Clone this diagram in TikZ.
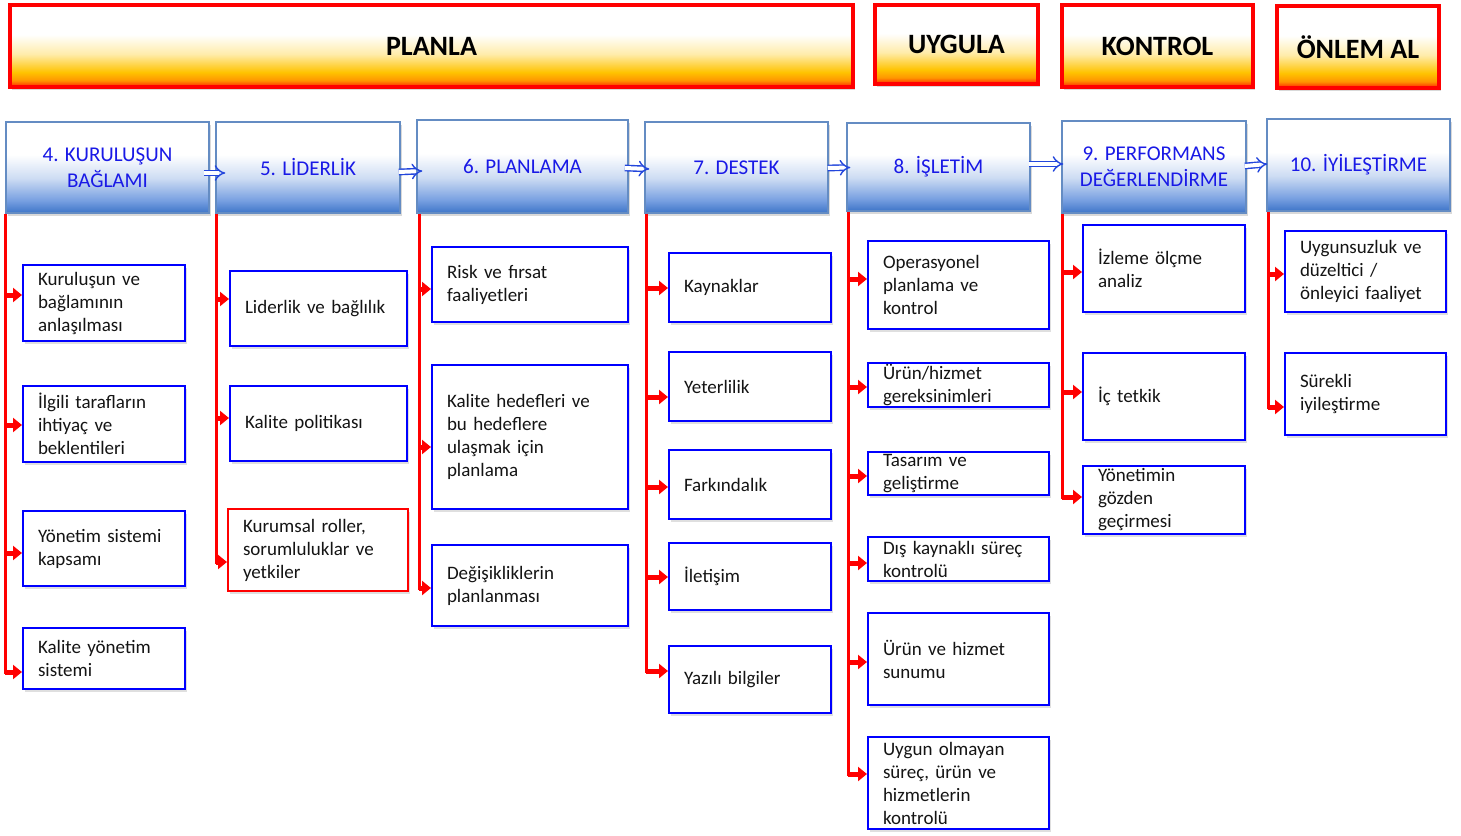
\documentclass[tikz,border=0pt]{standalone}
\usepackage{fontspec}
\setmainfont{Carlito}
\usetikzlibrary{arrows.meta,shadows}
\definecolor{hdrbot}{RGB}{255,60,0}
\definecolor{hdrorange}{RGB}{255,150,0}
\definecolor{hdryellow}{RGB}{255,195,0}
\definecolor{hdrpale}{RGB}{255,236,170}
\definecolor{secbot}{RGB}{62,117,200}
\definecolor{secmid}{RGB}{120,160,225}
\definecolor{seclight}{RGB}{205,220,243}
\definecolor{secline}{RGB}{100,140,195}
\definecolor{sectext}{RGB}{25,25,230}
\definecolor{arrblue}{RGB}{35,70,220}
\definecolor{itemtext}{RGB}{20,20,20}
\pgfdeclareverticalshading{hdrfill}{100bp}{color(0bp)=(hdrbot); color(26bp)=(hdrbot); color(29bp)=(hdrorange); color(34bp)=(hdryellow); color(45bp)=(hdrpale); color(57bp)=(white); color(100bp)=(white)}
\pgfdeclareverticalshading{secfill}{100bp}{color(0bp)=(secbot); color(25bp)=(secbot); color(32bp)=(secmid); color(44bp)=(seclight); color(57bp)=(white); color(100bp)=(white)}
\begin{document}
\begin{tikzpicture}[x=1pt, y=-1pt,
    hdrbox/.style={draw=red, line width=3.5pt, shade, shading=hdrfill, inner sep=0pt, font=\bfseries\fontsize{28}{32}\selectfont, drop shadow={opacity=0.3, shadow xshift=2pt, shadow yshift=-3pt}},
    secbox/.style={draw=secline, line width=1.5pt, shade, shading=secfill, inner sep=0pt, align=center, text=sectext, font=\fontsize{21}{26}\selectfont, drop shadow={opacity=0.3, shadow xshift=2pt, shadow yshift=-3pt}},
    itembox/.style={draw=blue, line width=2pt, fill=white, inner xsep=15pt, inner ysep=0pt, align=left, text=itemtext, font=\fontsize{19}{23}\selectfont, drop shadow={opacity=0.25, shadow xshift=2pt, shadow yshift=-3pt}},
    nextarr/.style={draw=arrblue, line width=1.4pt, double=white, double distance=4pt, -{Implies}},
    redline/.style={red, line width=3pt},
    redarr/.style={red, line width=5pt, -{Triangle[length=9pt, width=14pt]}}]

    \useasboundingbox (0,0) rectangle (1461,835);

        \node[hdrbox, minimum width=843, minimum height=82] (planla) at(431.5, 46){PLANLA};
        \node[hdrbox, minimum width=163, minimum height=79] (uygula) at(956.5, 44.5){UYGULA};
        \node[hdrbox, minimum width=191, minimum height=82] (kontrol) at(1157.5, 46){KONTROL};
        \node[hdrbox, minimum width=162, minimum height=82] (onlem) at(1358, 47){ÖNLEM AL};

        \node[secbox, minimum width=203, minimum height=91] (s4) at(107.5, 167.5){4. KURULUŞUN\\BAĞLAMI};
        \node[secbox, minimum width=184, minimum height=91] (s5) at(308, 167.5){5. LİDERLİK};
        \node[secbox, minimum width=211, minimum height=93] (s6) at(522.5, 166.5){6. PLANLAMA};
        \node[secbox, minimum width=183, minimum height=91] (s7) at(736.5, 167.5){7. DESTEK};
        \node[secbox, minimum width=183, minimum height=88] (s8) at(938.5, 167){8. İŞLETİM};
        \node[secbox, minimum width=184, minimum height=92] (s9) at(1154, 167){9. PERFORMANS\\DEĞERLENDİRME};
        \node[secbox, minimum width=183, minimum height=92] (s10) at(1358.5, 165){10. İYİLEŞTİRME};

        \draw[nextarr] ([xshift=-6pt, yshift=-5.5pt]s4.east) to ([xshift=10pt, yshift=-5.5pt]s5.west);
        \draw[nextarr] ([xshift=-2pt, yshift=-4.5pt]s5.east) to ([xshift=6pt, yshift=-4.5pt]s6.west);
        \draw[nextarr] ([xshift=-4pt, yshift=-1.5pt]s6.east) to ([xshift=5pt, yshift=-1.5pt]s7.west);
        \draw[nextarr] ([xshift=-1pt, yshift=-0.5pt]s7.east) to ([xshift=4pt, yshift=-0.5pt]s8.west);
        \draw[nextarr] ([xshift=-2pt, yshift=3pt]s8.east) to ([xshift=2pt, yshift=3pt]s9.west);
        \draw[nextarr] ([xshift=-2pt, yshift=1pt]s9.east) to ([xshift=1pt, yshift=1pt]s10.west);

        \coordinate (t4) at([xshift=0pt]s4.south west);
        \coordinate (t5) at([xshift=1pt]s5.south west);
        \coordinate (t6) at([xshift=3pt]s6.south west);
        \coordinate (t7) at([xshift=2pt]s7.south west);
        \coordinate (t8) at([xshift=2pt]s8.south west);
        \coordinate (t9) at([xshift=1pt]s9.south west);
        \coordinate (t10) at([xshift=2pt]s10.south west);

        \node[itembox, text width=132, minimum height=76] (i41) at(104, 303){Kuruluşun ve\\bağlamının\\anlaşılması};
        \node[itembox, text width=132, minimum height=76] (i42) at(104, 424){İlgili tarafların\\ihtiyaç ve\\beklentileri};
        \node[itembox, text width=132, minimum height=75] (i43) at(104, 548.5){Yönetim sistemi\\kapsamı};
        \node[itembox, text width=132, minimum height=61] (i44) at(104, 658.5){Kalite yönetim\\sistemi};
        \draw[redline] (t4) to (t4 |- 0,674);
            \draw[redarr] (t4 |- 0,295) to (i41.west |- 0,295);
            \draw[redarr] (t4 |- 0,425) to (i42.west |- 0,425);
            \draw[redarr] (t4 |- 0,553) to (i43.west |- 0,553);
            \draw[redarr] (t4 |- 0,672) to (i44.west |- 0,672);

        \node[itembox, text width=147, minimum height=75] (i51) at(318.5, 308.5){Liderlik ve bağlılık};
        \node[itembox, text width=147, minimum height=75] (i52) at(318.5, 423.5){Kalite politikası};
        \node[itembox, draw=red, text width=150, minimum height=82] (i53) at(318, 550){Kurumsal roller,\\sorumluluklar ve\\yetkiler};
        \draw[redline] (t5) to (t5 |- 0,564);
            \draw[redarr] (t5 |- 0,299) to (i51.west |- 0,299);
            \draw[redarr] (t5 |- 0,418) to (i52.west |- 0,418);
            \draw[redarr] (t5 |- 0,562) to (i53.west |- 0,562);

        \node[itembox, text width=166, minimum height=75] (i61) at(530, 284.5){Risk ve fırsat\\faaliyetleri};
        \node[itembox, text width=166, minimum height=144] (i62) at(530, 437){Kalite hedefleri ve\\bu hedeflere\\ulaşmak için\\planlama};
        \node[itembox, text width=166, minimum height=81] (i63) at(530, 585.5){Değişikliklerin\\planlanması};
        \draw[redline] (t6) to (t6 |- 0,590);
            \draw[redarr] (t6 |- 0,289) to (i61.west |- 0,289);
            \draw[redarr] (t6 |- 0,447) to (i62.west |- 0,447);
            \draw[redarr] (t6 |- 0,588) to (i63.west |- 0,588);

        \node[itembox, text width=132, minimum height=69] (i71) at(750, 287.5){Kaynaklar};
        \node[itembox, text width=132, minimum height=69] (i72) at(750, 386.5){Yeterlilik};
        \node[itembox, text width=132, minimum height=69] (i73) at(750, 484.5){Farkındalık};
        \node[itembox, text width=132, minimum height=67] (i74) at(750, 576.5){İletişim};
        \node[itembox, text width=132, minimum height=67] (i75) at(750, 679.5){Yazılı bilgiler};
        \draw[redline] (t7) to (t7 |- 0,673);
            \draw[redarr] (t7 |- 0,288) to (i71.west |- 0,288);
            \draw[redarr] (t7 |- 0,397) to (i72.west |- 0,397);
            \draw[redarr] (t7 |- 0,487) to (i73.west |- 0,487);
            \draw[redarr] (t7 |- 0,577) to (i74.west |- 0,577);
            \draw[redarr] (t7 |- 0,671) to (i75.west |- 0,671);

        \node[itembox, text width=151, minimum height=88] (i81) at(958.5, 285){Operasyonel\\planlama ve\\kontrol};
        \node[itembox, text width=151, minimum height=44] (i82) at(958.5, 385){Ürün/hizmet\\gereksinimleri};
        \node[itembox, text width=151, minimum height=43] (i83) at(958.5, 473.5){Tasarım ve\\geliştirme};
        \node[itembox, text width=151, minimum height=44] (i84) at(958.5, 559){Dış kaynaklı süreç\\kontrolü};
        \node[itembox, text width=151, minimum height=92] (i85) at(958.5, 659){Ürün ve hizmet\\sunumu};
        \node[itembox, text width=151, minimum height=92] (i86) at(958.5, 783){Uygun olmayan\\süreç, ürün ve\\hizmetlerin\\kontrolü};
        \draw[redline] (t8) to (t8 |- 0,776);
            \draw[redarr] (t8 |- 0,279) to (i81.west |- 0,279);
            \draw[redarr] (t8 |- 0,387) to (i82.west |- 0,387);
            \draw[redarr] (t8 |- 0,476) to (i83.west |- 0,476);
            \draw[redarr] (t8 |- 0,563) to (i84.west |- 0,563);
            \draw[redarr] (t8 |- 0,662) to (i85.west |- 0,662);
            \draw[redarr] (t8 |- 0,774) to (i86.west |- 0,774);

        \node[itembox, text width=132, minimum height=87] (i91) at(1164, 268.5){İzleme ölçme\\analiz};
        \node[itembox, text width=132, minimum height=87] (i92) at(1164, 396.5){İç tetkik};
        \node[itembox, text width=132, minimum height=68] (i93) at(1164, 500){Yönetimin\\gözden\\geçirmesi};
        \draw[redline] (t9) to (t9 |- 0,499);
            \draw[redarr] (t9 |- 0,272) to (i91.west |- 0,272);
            \draw[redarr] (t9 |- 0,392) to (i92.west |- 0,392);
            \draw[redarr] (t9 |- 0,497) to (i93.west |- 0,497);

        \node[itembox, text width=131, minimum height=81] (i101) at(1365.5, 271.5){Uygunsuzluk ve\\düzeltici /\\önleyici faaliyet};
        \node[itembox, text width=131, minimum height=82] (i102) at(1365.5, 394){Sürekli\\iyileştirme};
        \draw[redline] (t10) to (t10 |- 0,409);
            \draw[redarr] (t10 |- 0,274) to (i101.west |- 0,274);
            \draw[redarr] (t10 |- 0,407) to (i102.west |- 0,407);
            \end{tikzpicture}
\end{document}
